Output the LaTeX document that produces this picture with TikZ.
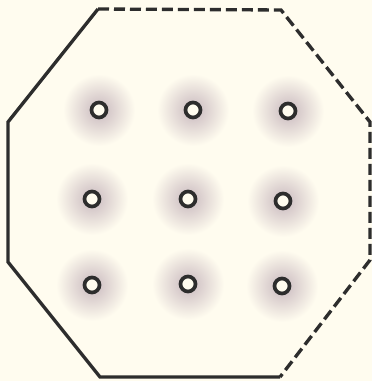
\documentclass[tikz,border=0pt]{standalone}
\usepackage{tikz}
\usetikzlibrary{calc}
\definecolor{paperfill}{RGB}{255,252,239}
\definecolor{inkline}{RGB}{45,45,45}
\definecolor{glowfill}{RGB}{200,184,190}
\tikzset{
  wall/.style    ={draw=inkline, line width=1.9pt, line join=miter},
  openwall/.style={draw=inkline, line width=1.9pt, dash pattern=on 0.22cm off 0.1cm},
  hole/.style    ={draw=inkline, circle, line width=2.1pt, fill=paperfill, minimum size=0.3cm, inner sep=0pt},
  glow/.style    ={inner color=glowfill, outer color=paperfill}
}
\begin{document}
\begin{tikzpicture}[x=0.02cm, y=-0.02cm]
  \fill[paperfill] (0,0) rectangle (372,381);
  \useasboundingbox (0,0) rectangle (372,381);
  % octagon corners
  \coordinate (nw) at (98,9);
  \coordinate (ne) at (281,10);
  \coordinate (en) at (370,122);
  \coordinate (es) at (370,260);
  \coordinate (se) at (280,377);
  \coordinate (sw) at (100,377);
  \coordinate (ws) at (8,262);
  \coordinate (wn) at (8,122);
  % hole centres
  \coordinate (c11) at (99,110);  \coordinate (c12) at (193,110); \coordinate (c13) at (288,111);
  \coordinate (c21) at (92,199);  \coordinate (c22) at (188,199); \coordinate (c23) at (283,201);
  \coordinate (c31) at (92,285);  \coordinate (c32) at (188,284); \coordinate (c33) at (282,286);
  \shade[glow] (c11) circle (36); \shade[glow] (c12) circle (36); \shade[glow] (c13) circle (36);
  \shade[glow] (c21) circle (36); \shade[glow] (c22) circle (36); \shade[glow] (c23) circle (36);
  \shade[glow] (c31) circle (36); \shade[glow] (c32) circle (36); \shade[glow] (c33) circle (36);
  \draw[wall] (nw) -- (wn) -- (ws) -- (sw) -- (se);
  \draw[openwall] (nw) -- (ne) -- (en) -- (es) -- (se);
  \node[hole] (h11) at (c11) {}; \node[hole] (h12) at (c12) {}; \node[hole] (h13) at (c13) {};
  \node[hole] (h21) at (c21) {}; \node[hole] (h22) at (c22) {}; \node[hole] (h23) at (c23) {};
  \node[hole] (h31) at (c31) {}; \node[hole] (h32) at (c32) {}; \node[hole] (h33) at (c33) {};
\end{tikzpicture}
\end{document}
